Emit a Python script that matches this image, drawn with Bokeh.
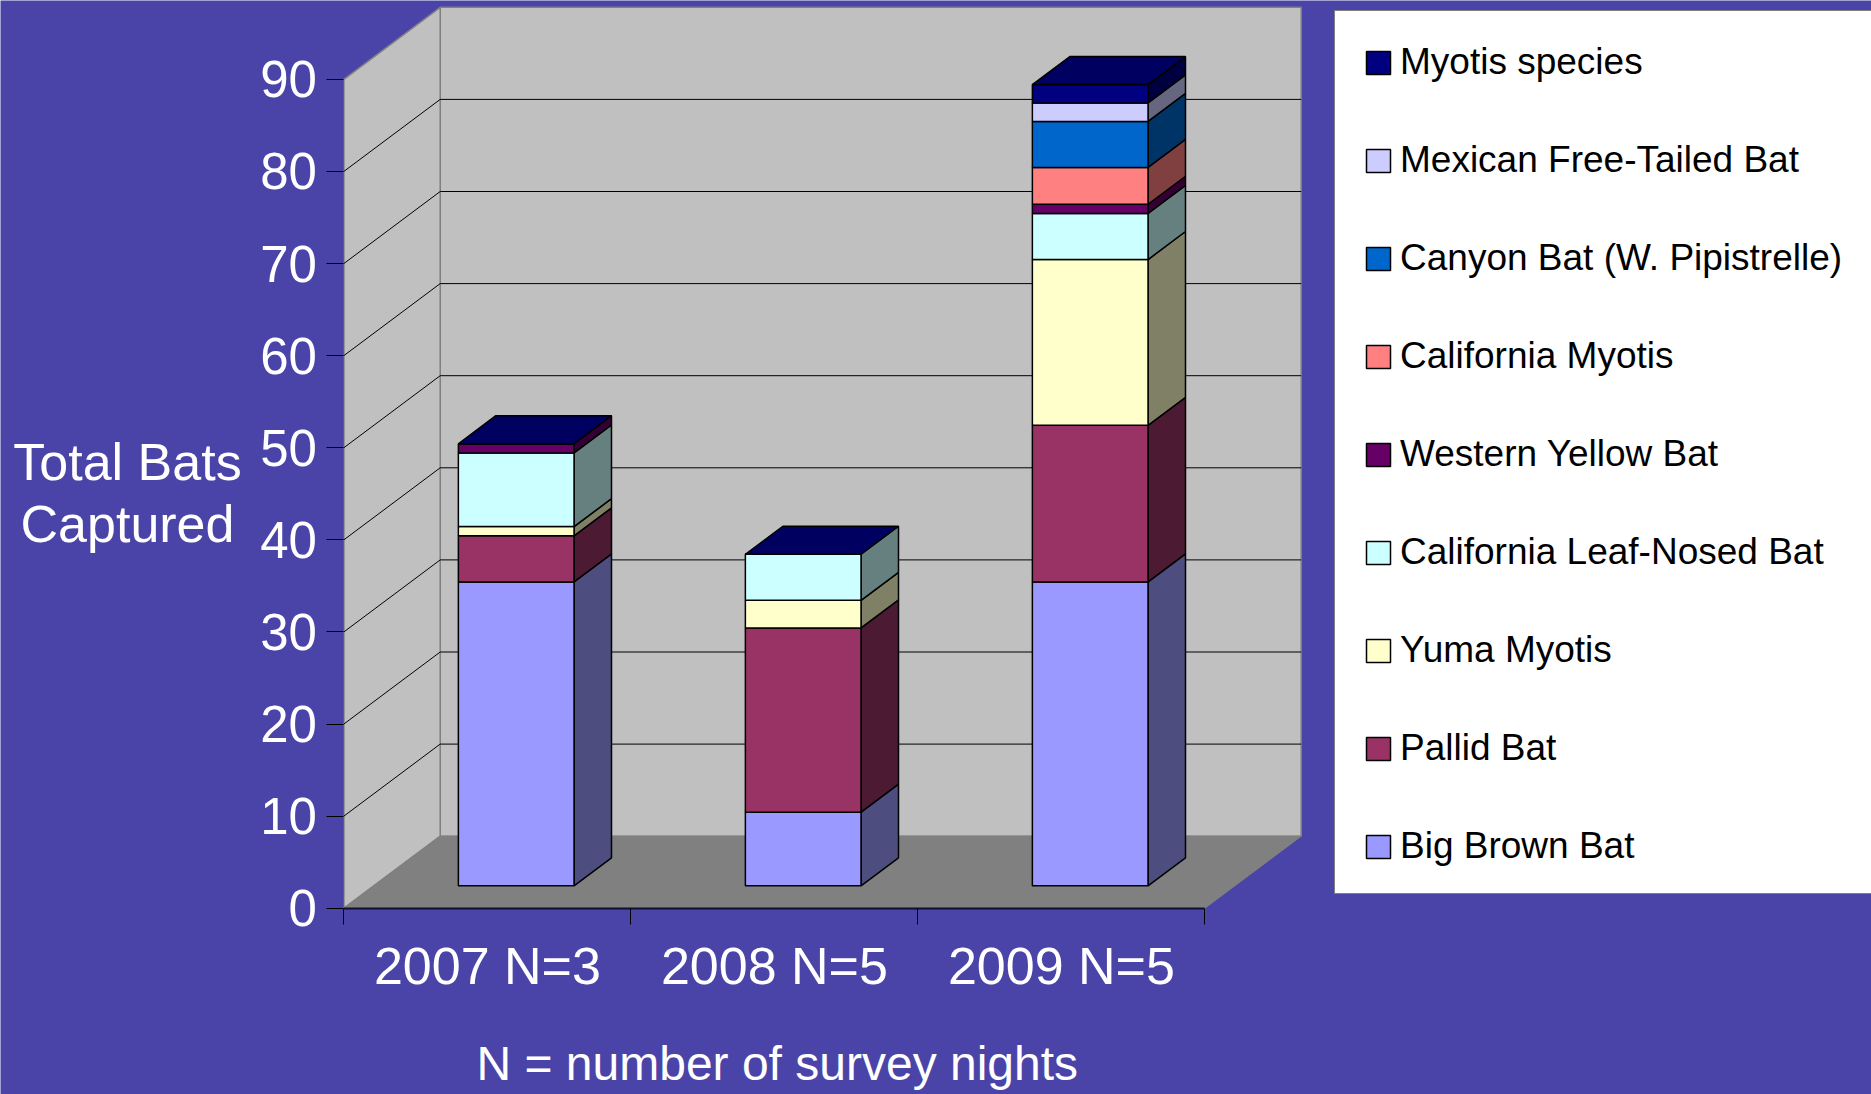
from bokeh.plotting import figure
from bokeh.models import ColumnDataSource, FixedTicker, Range1d, Legend, LegendItem
from bokeh.core.properties import value
from bokeh.embed import file_html
from bokeh.resources import INLINE

# ---------- data ----------
categories = ["2007 N=3", "2008 N=5", "2009 N=5"]
big_brown = [33, 8, 33]
pallid = [5, 20, 17]
yuma = [1, 3, 18]
leaf_nosed = [8, 5, 5]
western_yellow = [1, 0, 1]
california = [0, 0, 4]
canyon = [0, 0, 5]
mexican = [0, 0, 2]
myotis = [0, 0, 2]
series_names = ["Big Brown Bat", "Pallid Bat", "Yuma Myotis", "California Leaf-Nosed Bat",
                "Western Yellow Bat", "California Myotis", "Canyon Bat (W. Pipistrelle)",
                "Mexican Free-Tailed Bat", "Myotis species"]
series_values = [big_brown, pallid, yuma, leaf_nosed, western_yellow, california, canyon, mexican, myotis]
front_colors = ["#9999FF", "#993366", "#FFFFCC", "#CCFFFF", "#660066", "#FF8080", "#0066CC", "#CCCCFF", "#000080"]
side_colors = ["#4D4D80", "#4D1A33", "#808066", "#668080", "#330033", "#804040", "#003366", "#666680", "#000040"]
top_color = "#000060"
value_ticks = [0, 10, 20, 30, 40, 50, 60, 70, 80, 90]
y_title = ["Total Bats", "Captured"]
x_title = "N = number of survey nights"

# ---------- geometry ----------
W, H = 1871, 1094
PX_X, PX_Y = 287.0, 9.21            # pixels per category / per value unit
ORIG_X, ORIG_Y = 343.4, 907.7       # canvas position of the front origin
DEPTH_X, DEPTH_Y = 96.3 / PX_X, 72.0 / PX_Y   # full chart depth, in data units
BAR_W = 0.403
BAR_SHIFT = -0.004
Z0, Z1 = 0.311, 0.70
VMAX = value_ticks[-1]
NCAT = len(categories)
FONT = "Liberation Sans"


def proj(c, v, z):
    return c + z * DEPTH_X, v + z * DEPTH_Y


p = figure(width=W, height=H, output_backend="svg", toolbar_location=None,
           x_range=Range1d(-ORIG_X / PX_X, (W - ORIG_X) / PX_X),
           y_range=Range1d((ORIG_Y - H) / PX_Y, ORIG_Y / PX_Y),
           min_border=0, background_fill_color="#4B44A8", border_fill_color="#4B44A8",
           outline_line_color=None)
p.grid.visible = False

# walls and floor
wall = dict(fill_color="#C0C0C0", line_color="#808080", line_width=1.5)
bx, by = zip(*[proj(0, 0, 1), proj(NCAT, 0, 1), proj(NCAT, VMAX, 1), proj(0, VMAX, 1)])
p.patch(list(bx), list(by), **wall)
sx, sy = zip(*[proj(0, 0, 0), proj(0, 0, 1), proj(0, VMAX, 1), proj(0, VMAX, 0)])
p.patch(list(sx), list(sy), **wall)
fx, fy = zip(*[proj(0, 0, 0), proj(NCAT, 0, 0), proj(NCAT, 0, 1), proj(0, 0, 1)])
p.patch(list(fx), list(fy), fill_color="#808080", line_color="#808080", line_width=1)

# gridlines
gx, gy = [], []
for t in value_ticks[1:-1]:
    a, b, c = proj(0, t, 0), proj(0, t, 1), proj(NCAT, t, 1)
    gx.append([a[0], b[0], c[0]])
    gy.append([a[1], b[1], c[1]])
p.multi_line(gx, gy, line_color="black", line_width=1)

# stacked bars
legend_renderers = {}
base = [0.0] * NCAT
for name, vals, fc, sc in zip(series_names, series_values, front_colors, side_colors):
    top = [b + v for b, v in zip(base, vals)]
    l = [i + 0.5 + BAR_SHIFT - BAR_W / 2 + Z0 * DEPTH_X for i in range(NCAT)]
    r = [x + BAR_W for x in l]
    sxs, sys = [], []
    for i in range(NCAT):
        if vals[i] == 0:
            continue
        c = r[i] - Z0 * DEPTH_X
        pts = [proj(c, base[i], Z0), proj(c, base[i], Z1), proj(c, top[i], Z1), proj(c, top[i], Z0)]
        sxs.append([q[0] for q in pts])
        sys.append([q[1] for q in pts])
    p.patches(sxs, sys, fill_color=sc, line_color="black", line_width=1.5)
    src = ColumnDataSource(dict(left=l, right=r,
                                bottom=[b + Z0 * DEPTH_Y for b in base],
                                top=[t + Z0 * DEPTH_Y for t in top]))
    legend_renderers[name] = p.quad(left="left", right="right", bottom="bottom", top="top", source=src,
                                     fill_color=fc, line_color="black", line_width=1.5)
    base = top

# top faces
txs, tys = [], []
for i in range(NCAT):
    c0 = i + 0.5 + BAR_SHIFT - BAR_W / 2
    c1 = c0 + BAR_W
    pts = [proj(c0, base[i], Z0), proj(c1, base[i], Z0), proj(c1, base[i], Z1), proj(c0, base[i], Z1)]
    txs.append([q[0] for q in pts])
    tys.append([q[1] for q in pts])
p.patches(txs, tys, fill_color=top_color, line_color="black", line_width=1.5)

# axes
p.yaxis.fixed_location = 0
p.yaxis.bounds = (value_ticks[0], VMAX)
p.yaxis.ticker = FixedTicker(ticks=value_ticks)
p.yaxis.axis_line_color = "#606060"
p.yaxis.major_tick_line_color = "black"
p.yaxis.major_tick_out = 17
p.yaxis.major_tick_in = 0
p.yaxis.minor_tick_out = 0
p.yaxis.minor_tick_in = 0
p.yaxis.major_label_standoff = 10
p.yaxis.major_label_text_color = "white"
p.yaxis.major_label_text_font = FONT
p.yaxis.major_label_text_font_size = "51px"

p.xaxis.fixed_location = 0
p.xaxis.bounds = (0, NCAT)
p.xaxis.ticker = FixedTicker(ticks=[i + 0.5 for i in range(NCAT)], minor_ticks=list(range(NCAT + 1)))
p.xaxis.major_label_overrides = {i + 0.5: c for i, c in enumerate(categories)}
p.xaxis.axis_line_color = "#101030"
p.xaxis.axis_line_width = 2
p.xaxis.major_tick_out = 0
p.xaxis.major_tick_in = 0
p.xaxis.minor_tick_out = 16
p.xaxis.minor_tick_in = 0
p.xaxis.minor_tick_line_color = "black"
p.xaxis.major_label_standoff = 13
p.xaxis.major_label_text_color = "white"
p.xaxis.major_label_text_font = FONT
p.xaxis.major_label_text_font_size = "52px"

# titles
p.text(x=[-0.754, -0.754], y=[48.4, 41.7], text=y_title, text_color="white", text_align="center",
       text_baseline="alphabetic", text_font=value(FONT), text_font_size="52px")
p.text(x=[1.51], y=[-16.9], text=[x_title], text_color="white", text_align="center",
       text_baseline="alphabetic", text_font=value(FONT), text_font_size="48px")

# legend
items = [LegendItem(label=n, renderers=[legend_renderers[n]]) for n in reversed(series_names)]
legend = Legend(items=items, location=(1334, 200), orientation="vertical",
                padding=dict(left=28, right=10, top=30, bottom=26), margin=0,
                spacing=56, glyph_width=30, glyph_height=29, label_standoff=7, label_height=42,
                label_width=600, background_fill_color="white", background_fill_alpha=1.0,
                border_line_color="black", border_line_width=1,
                label_text_font=FONT, label_text_font_size="37px", label_text_color="black",
                label_text_baseline="middle")
p.add_layout(legend, "center")

open("out.html", "w").write(file_html(p, INLINE))
